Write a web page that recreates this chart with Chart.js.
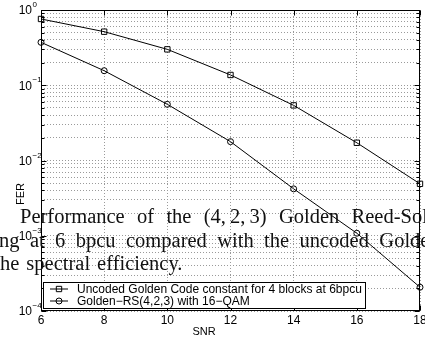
<!DOCTYPE html>
<html lang="en">
<head>
    <meta charset="UTF-8">
    <title>FER vs SNR</title>
    <script src="https://cdn.jsdelivr.net/npm/chart.js"></script>
    <style>
        html, body { margin: 0; padding: 0; background: #fff; }
        #wrap { width: 425px; height: 338px; }
    </style>
</head>
<body>
    <div id="wrap"><canvas id="ferChart" width="425" height="338"></canvas></div>

    <script>
        // values
        const snr = [6, 8, 10, 12, 14, 16, 18];
        const ferUncoded = [0.76, 0.515, 0.30, 0.137, 0.054, 0.0172, 0.0049];
        const ferGoldenRS = [0.372, 0.156, 0.0558, 0.0178, 0.0042, 0.00108, 0.000207];
        const seriesLabels = [
            "Uncoded Golden Code constant for 4 blocks at 6bpcu",
            "Golden\u2212RS(4,2,3) with 16\u2212QAM"
        ];
        const yDecades = [1, 0.1, 0.01, 0.001, 0.0001];
        const yExponents = ["0", "\u22121", "\u22122", "\u22123", "\u22124"];
        const xTitle = "SNR";
        const yTitle = "FER";
        // paper caption text that sits over the figure
        const captionLines = [
            ["Performance", "of", "the", "(4,\u20092,\u20093)", "Golden", "Reed-Solomon"],
            ["ng", "at", "6", "bpcu", "compared", "with", "the", "uncoded", "Golden"],
            ["he", "spectral", "efficiency."]
        ];

        const SANS = "'Liberation Sans', Arial, Helvetica, sans-serif";
        const SERIF = "'Liberation Serif', 'Times New Roman', serif";

        // box, inner ticks, decade labels and legend, MATLAB style
        const matlabAxes = {
            id: "matlabAxes",
            afterDatasetsDraw(chart) {
                const ctx = chart.ctx;
                const a = chart.chartArea;
                const xs = chart.scales.x;
                const ys = chart.scales.y;
                ctx.save();
                ctx.strokeStyle = "#000";
                ctx.lineWidth = 1;

                const l = Math.round(a.left) + 0.5, r = Math.round(a.right) - 0.5;
                const t = Math.round(a.top) + 0.5, b = Math.round(a.bottom) - 0.5;
                ctx.strokeRect(l, t, r - l, b - t);

                ctx.beginPath();
                ys.ticks.forEach(tk => {
                    const py = Math.round(ys.getPixelForValue(tk.value)) + 0.5;
                    const len = yDecades.includes(tk.value) ? 5 : 3;
                    ctx.moveTo(l, py); ctx.lineTo(l + len, py);
                    ctx.moveTo(r, py); ctx.lineTo(r - len, py);
                });
                xs.ticks.forEach(tk => {
                    const px = Math.round(xs.getPixelForValue(tk.value)) + 0.5;
                    ctx.moveTo(px, b); ctx.lineTo(px, b - 5);
                    ctx.moveTo(px, t); ctx.lineTo(px, t + 5);
                });
                ctx.stroke();

                // 10^n labels
                ctx.fillStyle = "#000";
                yDecades.forEach((v, i) => {
                    const py = ys.getPixelForValue(v);
                    ctx.font = "12px " + SANS;
                    ctx.textAlign = "right";
                    ctx.textBaseline = "middle";
                    ctx.fillText("10", 32, py + 1);
                    ctx.font = "8px " + SANS;
                    ctx.textAlign = "left";
                    ctx.textBaseline = "alphabetic";
                    ctx.fillText(yExponents[i], 32.5, py - 3);
                });

                // axis titles
                ctx.font = "11px " + SANS;
                ctx.textAlign = "center";
                ctx.textBaseline = "middle";
                ctx.fillText(xTitle, 204, 332);
                ctx.save();
                ctx.translate(21, 194);
                ctx.rotate(-Math.PI / 2);
                ctx.fillText(yTitle, 0, 0);
                ctx.restore();

                // legend box in the lower left corner
                const bx = 43.5, by = 282.5, bw = 322, bh = 26;
                ctx.fillStyle = "#fff";
                ctx.fillRect(bx, by, bw, bh);
                ctx.strokeRect(bx, by, bw, bh);
                chart.data.datasets.forEach((ds, i) => {
                    const ry = by + 6.5 + i * 12;
                    ctx.beginPath();
                    ctx.moveTo(50, ry); ctx.lineTo(68, ry);
                    ctx.stroke();
                    ctx.fillStyle = "rgba(0,0,0,0)";
                    Chart.helpers.drawPoint(ctx, {
                        pointStyle: ds.pointStyle, radius: ds.pointRadius,
                        rotation: 0, borderWidth: 1
                    }, 59, ry);
                    ctx.fillStyle = "#000";
                    ctx.font = "12px " + SANS;
                    ctx.textAlign = "left";
                    ctx.textBaseline = "middle";
                    ctx.fillText(ds.label, 77, ry + 0.5);
                });
                ctx.restore();
            },
            afterDraw(chart) {
                const ctx = chart.ctx;
                const starts = [20, -1, 0];
                const gaps = [12.3, 10.4, 7];
                const baselines = [223, 247, 270];
                ctx.save();
                ctx.fillStyle = "#111";
                ctx.font = "20.5px " + SERIF;
                ctx.textAlign = "left";
                ctx.textBaseline = "alphabetic";
                captionLines.forEach((words, i) => {
                    let x = starts[i];
                    words.forEach(w => {
                        ctx.fillText(w, x, baselines[i]);
                        x += ctx.measureText(w).width + gaps[i];
                    });
                });
                ctx.restore();
            }
        };

        const ctx = document.getElementById("ferChart").getContext("2d");
        new Chart(ctx, {
            type: "line",
            data: {
                labels: snr,
                datasets: [
                    {
                        label: seriesLabels[0],
                        data: snr.map((s, i) => ({ x: s, y: ferUncoded[i] })),
                        borderColor: "#000",
                        borderWidth: 1,
                        backgroundColor: "transparent",
                        pointStyle: "rect",
                        pointRadius: 3.8,
                        pointBorderColor: "#000",
                        pointBorderWidth: 1,
                        fill: false,
                        clip: false
                    },
                    {
                        label: seriesLabels[1],
                        data: snr.map((s, i) => ({ x: s, y: ferGoldenRS[i] })),
                        borderColor: "#000",
                        borderWidth: 1,
                        backgroundColor: "transparent",
                        pointStyle: "circle",
                        pointRadius: 3,
                        pointBorderColor: "#000",
                        pointBorderWidth: 1,
                        fill: false,
                        clip: false
                    }
                ]
            },
            options: {
                responsive: false,
                animation: false,
                events: [],
                layout: { padding: { top: 10, right: 3, left: 0, bottom: 0 } },
                plugins: { legend: { display: false }, tooltip: { enabled: false } },
                scales: {
                    x: {
                        type: "linear",
                        min: 6,
                        max: 18,
                        ticks: {
                            stepSize: 2,
                            padding: 2,
                            color: "#000",
                            font: { family: SANS, size: 12 },
                            maxRotation: 0
                        },
                        grid: { color: "#9a9a9a", drawTicks: false, lineWidth: 1 },
                        border: { display: false, dash: [1, 2] },
                        afterFit(s) {
                            s.height = 27;
                            s.paddingLeft = 0;
                            s.paddingRight = 0;
                        }
                    },
                    y: {
                        type: "logarithmic",
                        min: 0.0001,
                        max: 1,
                        ticks: { autoSkip: false, callback: () => "" },
                        grid: { color: "#9a9a9a", drawTicks: false, lineWidth: 1 },
                        border: { display: false, dash: [1, 2] },
                        afterBuildTicks(s) {
                            const t = [];
                            yDecades.slice(1).reverse().forEach(d => {
                                for (let m = 1; m <= 9; m++) t.push({ value: m * d });
                            });
                            t.push({ value: 1 });
                            s.ticks = t;
                        },
                        afterFit(s) {
                            s.width = 41;
                            s.paddingTop = 0;
                            s.paddingBottom = 0;
                        }
                    }
                }
            },
            plugins: [matlabAxes]
        });
    </script>
</body>
</html>
